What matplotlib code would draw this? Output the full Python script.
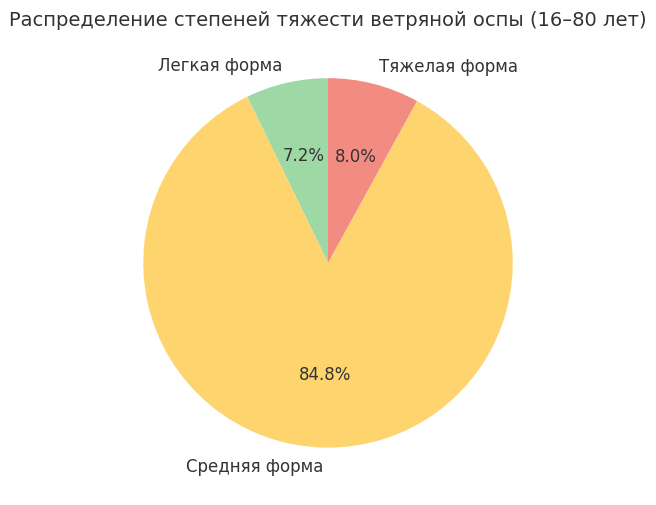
import matplotlib.pyplot as plt

plt.rcParams["font.family"] = ["DejaVu Sans"]

# Data
labels = ["Легкая форма", "Средняя форма", "Тяжелая форма"]
shares = [7.2, 84.8, 8.0]
colors = ["#9dd8a5", "#fed46f", "#f28c82"]

fig = plt.figure(figsize=(6.56, 5.06), dpi=100)
ax = fig.add_axes([0.148, 0.022, 0.704, 0.913])

wedges, texts, autotexts = ax.pie(
    shares, labels=labels, colors=colors, autopct="%1.1f%%",
    startangle=90, textprops={"fontsize": 12, "color": "#333333"},
)
ax.set_aspect("equal")

fig.text(0.5, 0.96, "Распределение степеней тяжести ветряной оспы (16–80 лет)",
         ha="center", va="center", fontsize=14, color="#333333")

fig.savefig("out.png", dpi=100)
